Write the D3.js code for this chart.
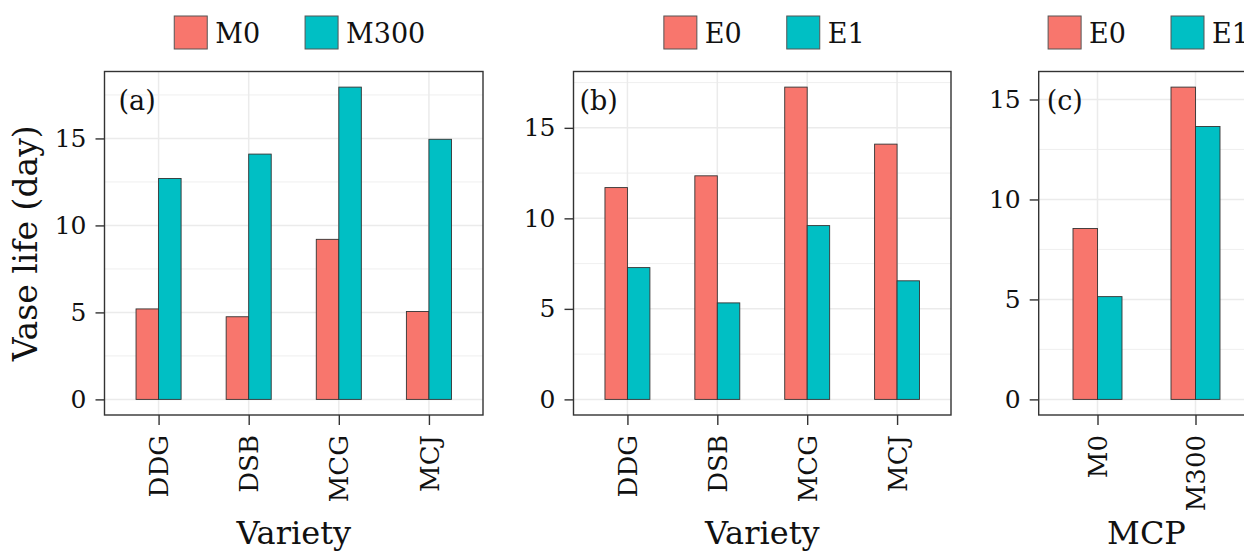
<!DOCTYPE html>
<html>
<head>
<meta charset="utf-8">
<script src="https://cdn.jsdelivr.net/npm/d3@7"></script>
<style>
  body { margin: 0; background: #fff; }
  svg { display: block; font-family: "DejaVu Serif", serif; }
</style>
</head>
<body>
<svg id="chart"></svg>
<script>
// data
const varieties = ["DDG", "DSB", "MCG", "MCJ"];
const mcpLevels = ["M0", "M300"];

// (a) vase life by variety, MCP 0 vs 300
const mcpM0 = [5.2, 4.75, 9.2, 5.05];
const mcpM300 = [12.7, 14.1, 17.95, 14.95];

// (b) vase life by variety, ethylene E0 vs E1
const ethE0 = [11.7, 12.35, 17.25, 14.1];
const ethE1 = [7.28, 5.33, 9.6, 6.55];

// (c) vase life by MCP level, ethylene E0 vs E1
const mcpEthE0 = [8.55, 15.62];
const mcpEthE1 = [5.14, 13.65];

const yTicks = [0, 5, 10, 15];
const yMinor = [2.5, 7.5, 12.5, 17.5];

const colors = ["#F8766D", "#00BFC4"];

const W = 1244, H = 552;
const svg = d3.select("#chart").attr("width", W).attr("height", H);

const plotTop = 71.5, plotBottom = 415;

const panels = [
  { tag: "(a)", left: 104.5, right: 483, cats: varieties, s1: mcpM0, s2: mcpM300,
    keys: ["M0", "M300"], xTitle: "Variety", tagDx: 14, legDx: 6 },
  { tag: "(b)", left: 573.5, right: 951, cats: varieties, s1: ethE0, s2: ethE1,
    keys: ["E0", "E1"], xTitle: "Variety", tagDx: 6, legDx: 2 },
  { tag: "(c)", left: 1038.7, right: 1254.3, cats: mcpLevels, s1: mcpEthE0, s2: mcpEthE1,
    keys: ["E0", "E1"], xTitle: "MCP", tagDx: 8, legDx: 2 }
];

panels.forEach(p => {
  const g = svg.append("g");
  const maxV = d3.max(p.s1.concat(p.s2));

  // ggplot style 5% expansion
  const y = d3.scaleLinear()
    .domain([-0.05 * maxV, maxV * 1.05])
    .range([plotBottom, plotTop]);

  const x = d3.scalePoint()
    .domain(p.cats)
    .range([p.left, p.right])
    .padding(0.6);
  const step = x.step();
  const barW = step * 0.25;

  // grid
  g.selectAll(".minor")
    .data(yMinor.filter(v => v > y.domain()[0] && v < y.domain()[1]))
    .join("line")
    .attr("x1", p.left).attr("x2", p.right)
    .attr("y1", d => y(d)).attr("y2", d => y(d))
    .attr("stroke", "#ebebeb").attr("stroke-width", 0.8);

  g.selectAll(".major")
    .data(yTicks)
    .join("line")
    .attr("x1", p.left).attr("x2", p.right)
    .attr("y1", d => y(d)).attr("y2", d => y(d))
    .attr("stroke", "#ebebeb").attr("stroke-width", 1.5);

  g.selectAll(".vgrid")
    .data(p.cats)
    .join("line")
    .attr("x1", d => x(d)).attr("x2", d => x(d))
    .attr("y1", plotTop).attr("y2", plotBottom)
    .attr("stroke", "#ebebeb").attr("stroke-width", 1.5);

  // bars
  const rows = p.cats.map((c, i) => ({ c, v1: p.s1[i], v2: p.s2[i] }));
  g.selectAll(".b1")
    .data(rows)
    .join("rect")
    .attr("x", d => x(d.c) - barW)
    .attr("y", d => y(d.v1))
    .attr("width", barW)
    .attr("height", d => y(0) - y(d.v1))
    .attr("fill", colors[0])
    .attr("stroke", "#333").attr("stroke-width", 0.9);
  g.selectAll(".b2")
    .data(rows)
    .join("rect")
    .attr("x", d => x(d.c))
    .attr("y", d => y(d.v2))
    .attr("width", barW)
    .attr("height", d => y(0) - y(d.v2))
    .attr("fill", colors[1])
    .attr("stroke", "#333").attr("stroke-width", 0.9);

  // panel border
  g.append("rect")
    .attr("x", p.left).attr("y", plotTop)
    .attr("width", p.right - p.left).attr("height", plotBottom - plotTop)
    .attr("fill", "none")
    .attr("stroke", "#333").attr("stroke-width", 1.4);

  // y axis
  const yAxis = g.append("g")
    .attr("transform", "translate(" + p.left + ",0)")
    .call(d3.axisLeft(y).tickValues(yTicks).tickSize(9).tickPadding(9));
  yAxis.select(".domain").remove();
  yAxis.selectAll("line").attr("stroke", "#333").attr("stroke-width", 1.4);
  yAxis.selectAll("text")
    .style("font-family", "DejaVu Serif")
    .style("font-size", "25px")
    .attr("fill", "#111");

  // x axis
  const xAxis = g.append("g")
    .attr("transform", "translate(0," + plotBottom + ")")
    .call(d3.axisBottom(x).tickSize(10).tickPadding(0));
  xAxis.select(".domain").remove();
  xAxis.selectAll("line").attr("stroke", "#333").attr("stroke-width", 1.4);
  xAxis.selectAll("text")
    .style("font-family", "DejaVu Serif")
    .style("font-size", "26px")
    .attr("fill", "#111")
    .attr("text-anchor", "end")
    .attr("dy", "0.35em")
    .attr("y", 0)
    .attr("transform", "translate(0,20) rotate(-90)");

  // x title
  g.append("text")
    .attr("x", (p.left + p.right) / 2)
    .attr("y", 544)
    .attr("text-anchor", "middle")
    .style("font-size", "32px")
    .attr("fill", "#111")
    .text(p.xTitle);

  // panel tag
  g.append("text")
    .attr("x", p.left + p.tagDx)
    .attr("y", 110)
    .style("font-size", "27px")
    .attr("fill", "#111")
    .text(p.tag);

  // legend
  const leg = g.append("g");
  let cx = 0;
  p.keys.forEach((k, i) => {
    leg.append("rect")
      .attr("x", cx).attr("y", 16)
      .attr("width", 33).attr("height", 33)
      .attr("fill", colors[i])
      .attr("stroke", "#555").attr("stroke-width", 1);
    const t = leg.append("text")
      .attr("x", cx + 41)
      .attr("y", 42.5)
      .style("font-size", "27px")
      .attr("fill", "#111")
      .text(k);
    cx += 41 + t.node().getComputedTextLength() + 45;
  });
  const legW = cx - 45;
  leg.attr("transform", "translate(" + ((p.left + p.right) / 2 + p.legDx - legW / 2) + ",0)");
});

// shared y title
svg.append("text")
  .attr("transform", "translate(37," + (plotTop + plotBottom) / 2 + ") rotate(-90)")
  .attr("text-anchor", "middle")
  .style("font-size", "33px")
  .attr("fill", "#111")
  .text("Vase life (day)");
</script>
</body>
</html>
